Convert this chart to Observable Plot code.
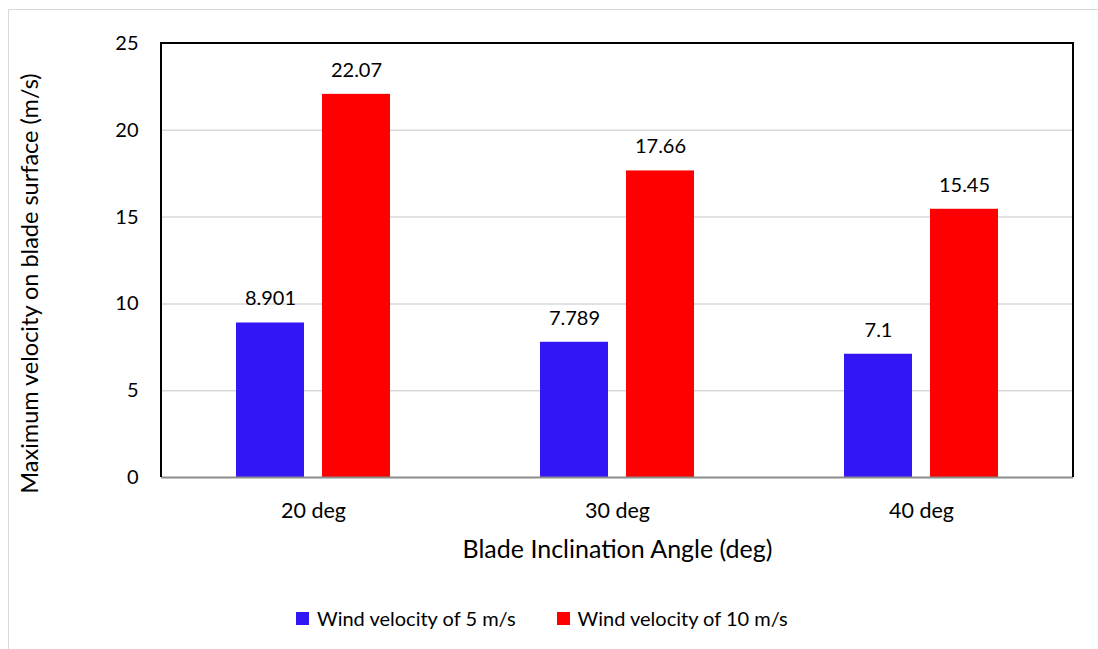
<!DOCTYPE html>
<html>
<head>
<meta charset="utf-8">
<script src="https://cdn.jsdelivr.net/npm/d3@7"></script>
<script src="https://cdn.jsdelivr.net/npm/@observablehq/plot@0.6"></script>
<style>
  body { margin: 0; background: #fff; overflow: hidden; font-family: Lato, "Open Sans", sans-serif; }
  #border { position: absolute; left: 8px; top: 9px; width: 1200px; height: 800px; border: 1px solid #d9d9d9; }
  #chart { position: absolute; left: 0; top: 0; }
  #legend { position: absolute; left: 296px; top: 606px; display: flex; align-items: center; font-size: 20px; color: #000; }
  #legend .item { display: flex; align-items: center; margin-right: 41px; }
  #legend .sw { width: 13px; height: 13px; margin-right: 8px; }
</style>
</head>
<body>
<div id="border"></div>
<div id="chart"></div>
<div id="legend"></div>
<script>
// Blade inclination angles and the two wind speeds
const angles = ["20 deg", "30 deg", "40 deg"];
const series = ["Wind velocity of 5 m/s", "Wind velocity of 10 m/s"];
const wind5 = [8.901, 7.789, 7.1];
const wind10 = [22.07, 17.66, 15.45];
const colors = ["#3216f5", "#ff0000"];
const yTicks = [0, 5, 10, 15, 20, 25];
const gridTicks = [5, 10, 15, 20];
const xTitle = "Blade Inclination Angle (deg)";
const yTitle = "Maximum velocity on blade surface (m/s)";

const rows = angles.flatMap((a, i) => [
  {angle: a, series: series[0], value: wind5[i]},
  {angle: a, series: series[1], value: wind10[i]}
]);

const chart = Plot.plot({
  width: 1098,
  height: 590,
  marginTop: 43,
  marginLeft: 161,
  marginRight: 25,
  marginBottom: 113,
  style: {fontFamily: "Lato, 'Open Sans', sans-serif", fontSize: "20px", color: "#000", background: "transparent"},
  fx: {domain: angles, padding: 0, axis: "bottom", tickSize: 0, tickPadding: 25,
       label: xTitle, labelAnchor: "center", labelOffset: 80, labelArrow: false},
  x: {domain: series, axis: null, paddingInner: 0.21, paddingOuter: 0.87},
  y: {domain: [0, 25], ticks: yTicks, tickSize: 0, tickPadding: 23,
      label: yTitle, labelAnchor: "center", labelOffset: 140, labelArrow: false},
  color: {domain: series, range: colors},
  marks: [
    Plot.ruleY(gridTicks, {stroke: "#d9d9d9", strokeWidth: 1.5}),
    Plot.barY(rows, {fx: "angle", x: "series", y: "value", fill: "series"}),
    Plot.text(rows, {fx: "angle", x: "series", y: "value", text: d => String(d.value), dy: -24, fontSize: 20, fill: "#000"}),
    Plot.ruleY([0], {stroke: "#8c8c8c", strokeWidth: 2})
  ]
});

// black frame on top, left and right of the plotting area
const fxs = chart.scale("fx"), ys = chart.scale("y");
const [x0, x1] = [Math.min(...fxs.range), Math.max(...fxs.range)];
const [yb, yt] = [Math.max(...ys.range), Math.min(...ys.range)];
d3.select(chart).append("path")
  .attr("d", `M${x0},${yb}V${yt}H${x1}V${yb}`)
  .attr("fill", "none").attr("stroke", "#000").attr("stroke-width", 2);

// category tick labels a little larger
d3.select(chart).selectAll("text").each(function () {
  if (angles.includes(this.textContent)) d3.select(this).style("font-size", "21.5px");
});

// axis titles: no arrows, larger type; the vertical title sits slightly lower
d3.select(chart).selectAll("text").each(function () {
  const t = this.textContent.replace(/\s*[↑→↓←]\s*/g, "");
  if (t === xTitle) {
    d3.select(this).text(t).style("font-size", "25px");
  } else if (t === yTitle) {
    d3.select(this).text(t).style("font-size", "23.5px").attr("dx", -23);
  }
});

document.getElementById("chart").appendChild(chart);

const legend = d3.select("#legend");
series.forEach((s, i) => {
  const item = legend.append("div").attr("class", "item");
  item.append("div").attr("class", "sw").style("background", colors[i]);
  item.append("span").text(s);
});
</script>
</body>
</html>
